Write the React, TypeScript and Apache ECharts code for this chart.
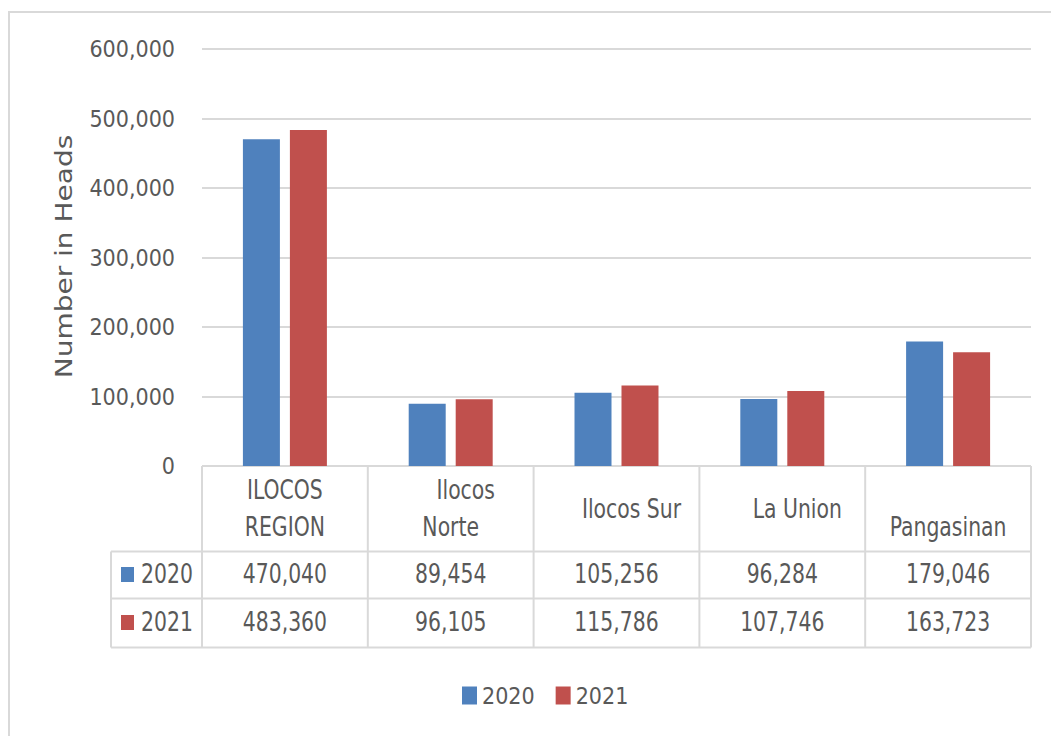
import React, { useEffect, useRef } from "react";
import * as echarts from "echarts";

const categories = ["ILOCOS REGION", "Ilocos Norte", "Ilocos Sur", "La Union", "Pangasinan"];
const headerLines = [["ILOCOS", "REGION"], ["Ilocos", "Norte"], ["Ilocos Sur"], ["La Union"], ["", "Pangasinan"]];
const seriesNames = ["2020", "2021"];
const values2020 = [470040, 89454, 105256, 96284, 179046];
const values2021 = [483360, 96105, 115786, 107746, 163723];
const yMin = 0;
const yMax = 600000;
const yInterval = 100000;
const yTitle = "Number in Heads";

const COLORS = ["#4f81bd", "#c0504d"];
const TEXT = "#595959";
const LINE = "#d9d9d9";
const FONT = "'DejaVu Sans Condensed', 'DejaVu Sans', sans-serif";
const FS = 27;
const SX = 0.84;
// pixel shift of header lines (layout only)
const headerShift = [[0, 0], [15, 0], [15], [15], [0, 0]];

const fmt = (v: number) => v.toLocaleString("en-US");

export default function App() {
  const ref = useRef<HTMLDivElement>(null);
  useEffect(() => {
    if (!ref.current) return;
    const chart = echarts.init(ref.current, undefined, { renderer: "svg" });
    const allValues = [values2020, values2021];
    const option: any = {
      animation: false,
      backgroundColor: "#ffffff",
      color: COLORS,
      grid: { left: 202, right: 20, top: 49, bottom: 270 },
      legend: {
        data: seriesNames,
        left: 457,
        top: 679,
        icon: "rect",
        itemWidth: 15,
        itemHeight: 18,
        itemGap: 21,
        textStyle: { color: TEXT, fontSize: 23, fontFamily: FONT },
      },
      xAxis: {
        type: "category",
        data: categories,
        axisLine: { show: false },
        axisTick: { show: false },
        axisLabel: { show: false },
      },
      yAxis: {
        type: "value",
        min: yMin,
        max: yMax,
        interval: yInterval,
        axisLine: { show: false },
        axisTick: { show: false },
        axisLabel: {
          color: TEXT,
          fontSize: 23,
          fontFamily: FONT,
          margin: 27,
          formatter: (v: number) => fmt(v),
        },
        splitLine: { lineStyle: { color: LINE, width: 2 } },
      },
      series: seriesNames.map((name, i) => ({
        name,
        type: "bar",
        data: allValues[i],
        barWidth: 37,
        barGap: "27%",
        itemStyle: { color: COLORS[i] },
      })),
    };
    chart.setOption(option);

    const xs = categories.map((c) => chart.convertToPixel({ xAxisIndex: 0 }, c) as number);
    const band = xs[1] - xs[0];
    const y0 = chart.convertToPixel({ yAxisIndex: 0 }, 0) as number;
    const yTop = chart.convertToPixel({ yAxisIndex: 0 }, yMax) as number;
    const headerBottom = y0 + 85.5;
    const row1Bottom = headerBottom + 47;
    const row2Bottom = row1Bottom + 49;
    const tableLeft = 111;
    const rightEdge = xs[xs.length - 1] + band / 2;
    const rowCenters = [(headerBottom + row1Bottom) / 2 - 1, (row1Bottom + row2Bottom) / 2 - 1];
    const headerCenter = (y0 + headerBottom) / 2;
    const lineGap = 37;

    const txt = (text: string, x: number, y: number, align: string) => ({
      type: "text",
      x,
      y,
      scaleX: SX,
      style: {
        text,
        fill: TEXT,
        font: `${FS}px ${FONT}`,
        textAlign: align,
        textVerticalAlign: "middle",
      },
    });

    const g: any[] = [];
    // outer border
    g.push({
      type: "rect",
      shape: { x: 9, y: 12, width: 1200, height: 900 },
      style: { fill: "none", stroke: LINE, lineWidth: 2 },
      silent: true,
      z: -1,
    });
    // y axis title
    g.push({
      type: "text",
      x: 64,
      y: (y0 + yTop) / 2 - 1,
      rotation: Math.PI / 2,
      scaleY: 0.8,
      style: {
        text: yTitle,
        fill: TEXT,
        font: "28px 'DejaVu Sans', sans-serif",
        textAlign: "center",
        textVerticalAlign: "middle",
      },
    });
    // vertical lines
    for (let i = 0; i <= categories.length; i++) {
      const x = xs[0] - band / 2 + i * band;
      g.push({
        type: "line",
        shape: { x1: x, y1: y0, x2: x, y2: row2Bottom },
        style: { stroke: LINE, lineWidth: 2 },
      });
    }
    g.push({
      type: "line",
      shape: { x1: tableLeft, y1: headerBottom, x2: tableLeft, y2: row2Bottom },
      style: { stroke: LINE, lineWidth: 2 },
    });
    [headerBottom, row1Bottom, row2Bottom].forEach((y) => {
      g.push({
        type: "line",
        shape: { x1: tableLeft, y1: y, x2: rightEdge, y2: y },
        style: { stroke: LINE, lineWidth: 2 },
      });
    });
    // header labels
    headerLines.forEach((lines, i) => {
      lines.forEach((t, j) => {
        if (!t) return;
        const y = headerCenter + (j - (lines.length - 1) / 2) * lineGap;
        g.push(txt(t, xs[i] + (headerShift[i][j] || 0), y, "center"));
      });
    });
    // rows
    seriesNames.forEach((name, r) => {
      const cy = rowCenters[r];
      g.push({
        type: "rect",
        shape: { x: 121, y: cy - 7, width: 13, height: 15 },
        style: { fill: COLORS[r] },
      });
      g.push(txt(name, 141, cy, "left"));
      allValues[r].forEach((v, i) => {
        g.push(txt(fmt(v), xs[i], cy, "center"));
      });
    });
    chart.setOption({ graphic: g });

    return () => chart.dispose();
  }, []);
  return (
    <div
      ref={ref}
      style={{ position: "absolute", left: 0, top: 0, width: 1051, height: 736, background: "#fff" }}
    />
  );
}
